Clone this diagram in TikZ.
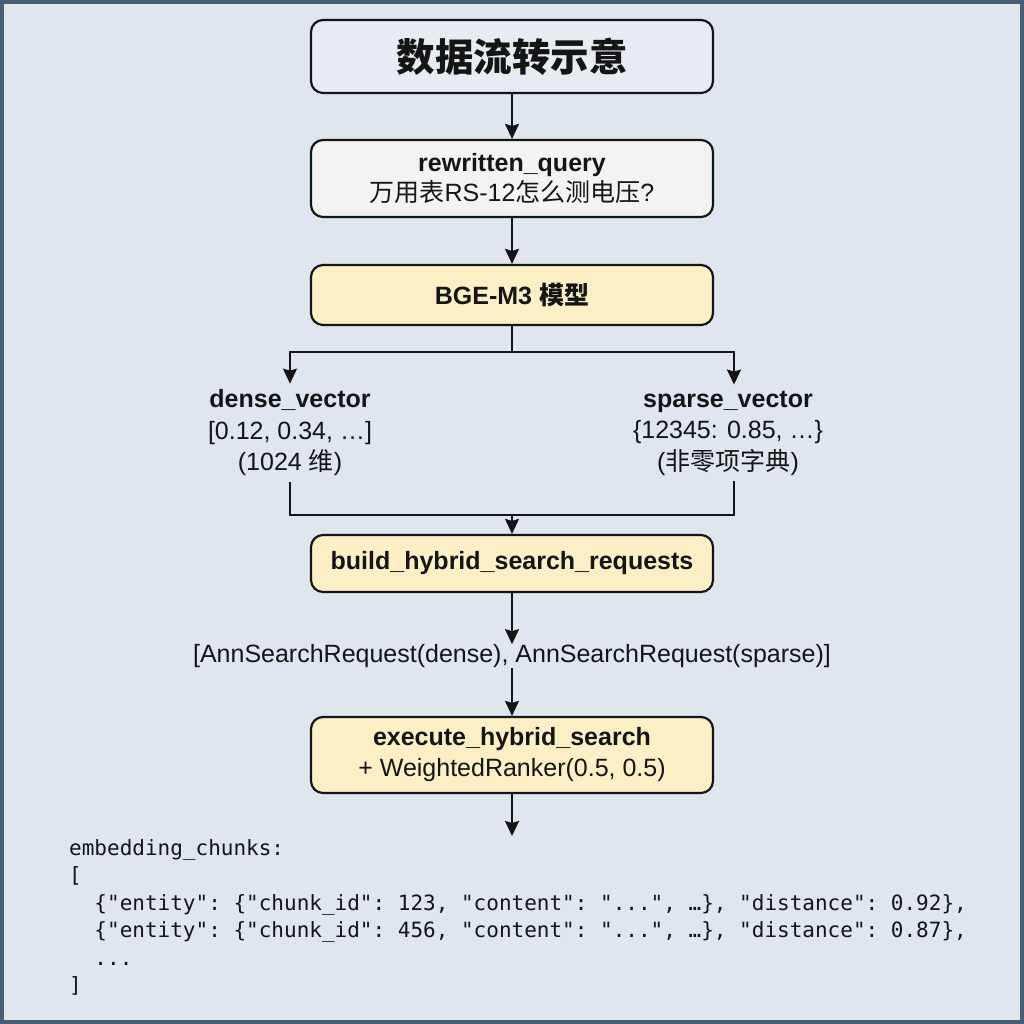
\documentclass[tikz,border=0pt]{standalone}
\usepackage{fontspec}
\setmainfont{Liberation Sans}
\setmonofont{DejaVu Sans Mono}
\newfontfamily\cjk{Noto Sans CJK SC}
\usetikzlibrary{arrows.meta}
\definecolor{bgc}{HTML}{DFE6EE}
\definecolor{framec}{HTML}{4A5C75}
\definecolor{titlefill}{HTML}{E6ECF2}
\definecolor{queryfill}{HTML}{F3F3F2}
\definecolor{yellowfill}{HTML}{FCEFC6}
\definecolor{linec}{HTML}{151515}
\tikzset{
  box/.style={draw=linec, line width=2.2pt, rounded corners=12pt, minimum width=402pt, inner sep=0pt, align=center, text=linec},
  lbl/.style={font=\fontsize{25}{31.5}\selectfont, align=center, inner sep=0pt, text=linec},
  arr/.style={draw=linec, line width=2pt, -{Stealth[length=15pt,width=14pt,inset=2pt]}},
  ln/.style={draw=linec, line width=2pt},
  codetext/.style={font=\ttfamily\fontsize{21}{27.5}\selectfont, align=left, inner sep=0pt, text=linec}
}
\begin{document}
\begin{tikzpicture}[x=1pt,y=-1pt]
\useasboundingbox (0,0) rectangle (1024,1024);
\fill[bgc] (0,0) rectangle (1024,1024);
\draw[framec, line width=4pt] (2,2) rectangle (1022,1022);

\node[box, fill=titlefill, minimum height=73pt, font=\cjk\bfseries\fontsize{38.5}{44}\selectfont] (title) at (512,56.5) {数据流转示意};

\node[box, fill=queryfill, minimum height=77pt, font=\fontsize{25}{30}\selectfont] (query) at (512,178.5)
  {\bfseries rewritten\_query\\{\cjk 万用表}RS-12{\cjk 怎么测电压}?};

\node[box, fill=yellowfill, minimum height=60pt, font=\bfseries\fontsize{25}{30}\selectfont] (bge) at (512,295) {BGE-M3 {\cjk 模型}};

\node[lbl] (dense) at (290,433) {\textbf{dense\_vector}\\{}[0.12, 0.34, …]\\(1024 {\cjk 维})};
\node[lbl] (sparse) at (728,433) {\textbf{sparse\_vector}\\\{12345: 0.85, …\}\\({\cjk 非零项字典})};

\node[box, fill=yellowfill, minimum height=57pt, font=\bfseries\fontsize{25}{30}\selectfont] (build) at (512,563.5) {build\_hybrid\_search\_requests};

\node[lbl] (ann) at (512,656) {[AnnSearchRequest(dense), AnnSearchRequest(sparse)]};

\node[box, fill=yellowfill, minimum height=76pt, font=\fontsize{25}{31}\selectfont] (exec) at (512,755)
  {\textbf{execute\_hybrid\_search}\\+ WeightedRanker(0.5, 0.5)};

\node[codetext, anchor=north west] (code) at (69,839) {embedding\_chunks:\\{}[\\
\phantom{xx}\{"entity": \{"chunk\_id": 123, "content": "...", …\}, "distance": 0.92\},\\
\phantom{xx}\{"entity": \{"chunk\_id": 456, "content": "...", …\}, "distance": 0.87\},\\
\phantom{xx}...\\{}]};

\coordinate (split) at (512,352);
\coordinate (join) at (512,515);

\draw[arr] (title) -- (query);
\draw[arr] (query) -- (bge);
\draw[ln] (bge.south) -- (split);
\draw[arr] (split) -| ([yshift=6pt]dense.north);
\draw[arr] (split) -| ([xshift=6pt,yshift=6pt]sparse.north);
\draw[ln] ([yshift=-6pt]dense.south) |- (join) -| ([xshift=6pt,yshift=-6pt]sparse.south);
\draw[arr] (join) -- (build.north);
\draw[arr] (build.south) -- (ann.north);
\draw[arr] (ann.south) -- (exec.north);
\draw[arr] (exec.south) -- ([yshift=3pt]exec.south |- code.north);
\end{tikzpicture}
\end{document}
